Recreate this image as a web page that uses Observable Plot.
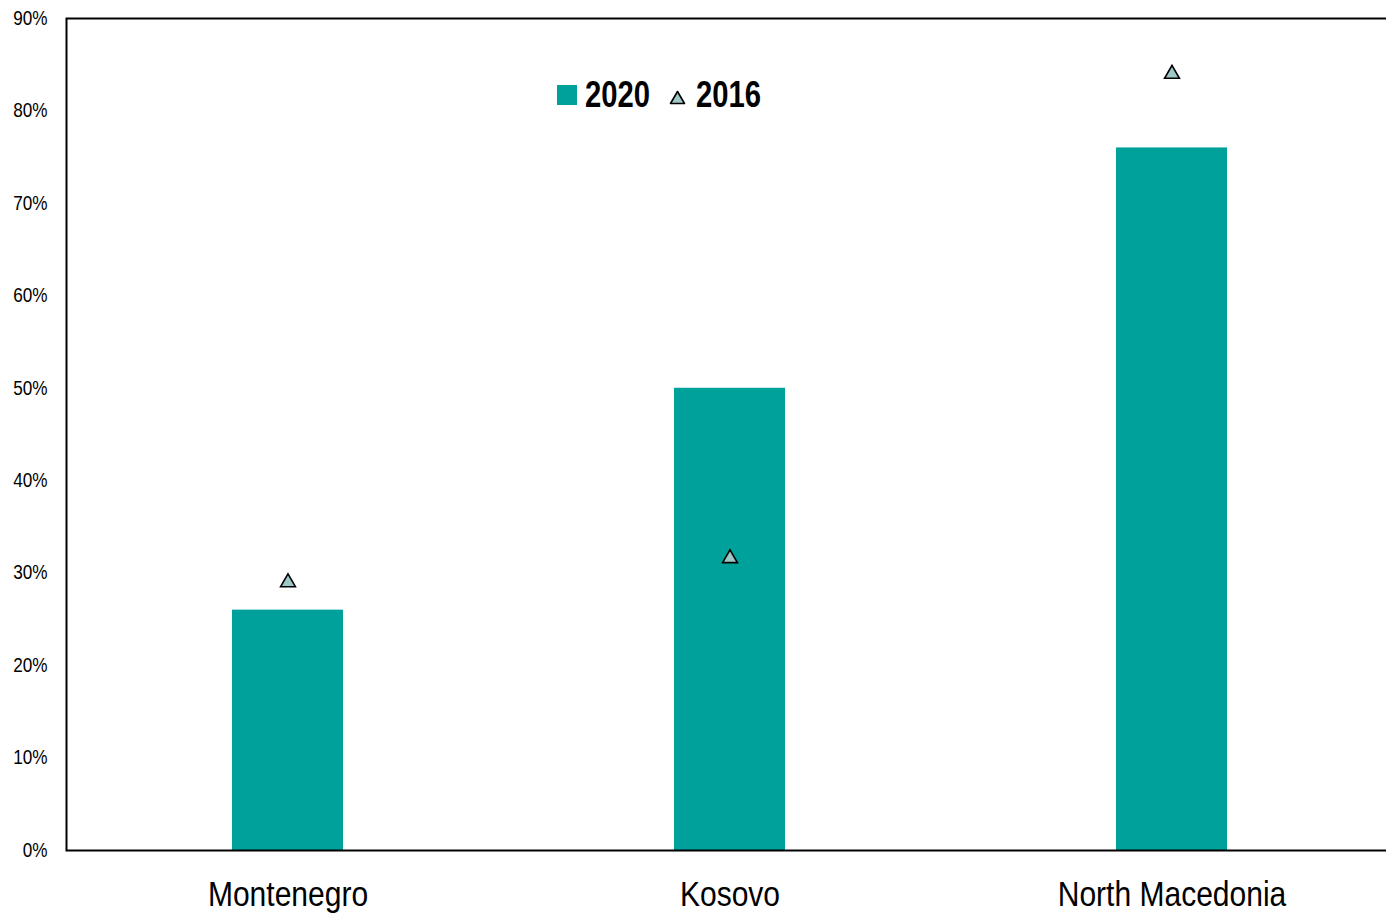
<!DOCTYPE html>
<html>
<head>
<meta charset="utf-8">
<script src="https://cdn.jsdelivr.net/npm/d3@7"></script>
<script src="https://cdn.jsdelivr.net/npm/@observablehq/plot@0.6"></script>
<style>
  html, body { margin: 0; padding: 0; background: #fff; overflow: hidden; }
  #wrap { position: relative; width: 1386px; height: 914px; overflow: hidden; }
  #chart svg { max-width: none !important; }
  #legend { position: absolute; left: 0; top: 0; pointer-events: none; }
</style>
</head>
<body>
<div id="wrap">
  <div id="chart"></div>
  <svg id="legend" width="1386" height="140" font-family="'Liberation Sans', Arial, sans-serif" font-weight="bold" font-size="37">
    <rect x="557" y="85" width="20" height="20" fill="#00a19b"/>
    <text transform="translate(585,107) scale(0.79,1)">2020</text>
    <polygon points="677.5,91.5 684.5,103.5 670.5,103.5" fill="#9ec8c5" stroke="#000" stroke-width="1.6" stroke-linejoin="round"/>
    <text transform="translate(696,107) scale(0.79,1)">2016</text>
  </svg>
</div>
<script>
const countries = ["Montenegro", "Kosovo", "North Macedonia"];
const values2020 = [0.26, 0.50, 0.76];
const values2016 = [0.29, 0.316, 0.84];
const yTicks = [0, 0.1, 0.2, 0.3, 0.4, 0.5, 0.6, 0.7, 0.8, 0.9];

const data = countries.map((c, i) => ({country: c, v2020: values2020[i], v2016: values2016[i]}));

const chart = Plot.plot({
  width: 1394,
  height: 914,
  marginLeft: 66,
  marginRight: 1,
  marginTop: 18,
  marginBottom: 64,
  style: {fontFamily: '"Liberation Sans", Arial, sans-serif', background: "#fff", overflow: "visible", maxWidth: "none"},
  x: {domain: countries, paddingInner: 0.75, paddingOuter: 0.375, label: null},
  y: {domain: [0, 0.9], label: null},
  marks: [
    Plot.barY(data, {x: "country", y: "v2020", fill: "#00a19b"}),
    Plot.dot(data, {x: "country", y: "v2016", symbol: "triangle", r: 5.5, fill: "#9ec8c5", stroke: "#000", strokeWidth: 1.6}),
    Plot.axisY({ticks: yTicks, tickFormat: d3.format(".0%"), tickSize: 0, tickPadding: 19, fontSize: 19.5, fill: "#000"}),
    Plot.axisX({tickSize: 0, tickPadding: 31, fontSize: 34.5, fill: "#000"}),
    Plot.frame({stroke: "#000", strokeWidth: 2})
  ]
});

document.getElementById("chart").appendChild(chart);

// condense the axis label glyphs horizontally (narrow typeface look)
chart.querySelectorAll("text").forEach(t => {
  const s = t.textContent.trim().endsWith("%") ? 0.88 : 0.87;
  const tr = t.getAttribute("transform");
  const x = parseFloat(t.getAttribute("x")) || 0;
  const y = parseFloat(t.getAttribute("y")) || 0;
  const extra = `translate(${x},${y}) scale(${s},1) translate(${-x},${-y})`;
  t.setAttribute("transform", tr ? `${tr} ${extra}` : extra);
});
</script>
</body>
</html>
